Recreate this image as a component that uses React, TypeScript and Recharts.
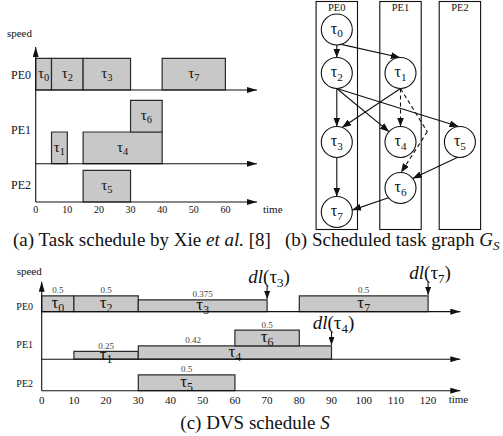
import React from 'react';
import { ScatterChart, Scatter, XAxis, YAxis, ReferenceArea, ReferenceLine } from 'recharts';

const SERIF = '"Liberation Serif", "Times New Roman", serif';
const INK = '#111';
const BAR_FILL = '#c8c8c8';
const BAR_STROKE = '#2a2a2a';
const serif = { fontFamily: SERIF };

const peNames = ['PE0', 'PE1', 'PE2'];

// (a) task schedule by Xie et al. -- every task runs at full speed
const xieSchedule = [
  { task: 0, pe: 0, start: 0, end: 5, speed: 1, base: 0 },
  { task: 2, pe: 0, start: 5, end: 15, speed: 1, base: 0 },
  { task: 3, pe: 0, start: 15, end: 30, speed: 1, base: 0 },
  { task: 7, pe: 0, start: 40, end: 60, speed: 1, base: 0 },
  { task: 1, pe: 1, start: 5, end: 10, speed: 1, base: 0 },
  { task: 4, pe: 1, start: 15, end: 40, speed: 1, base: 0 },
  { task: 6, pe: 1, start: 30, end: 40, speed: 1, base: 1 },
  { task: 5, pe: 2, start: 15, end: 30, speed: 1, base: 0 },
];
const xieTicks = [0, 10, 20, 30, 40, 50, 60];

// (c) DVS schedule S
const dvsSchedule = [
  { task: 0, pe: 0, start: 0, end: 10, speed: 0.5, base: 0 },
  { task: 2, pe: 0, start: 10, end: 30, speed: 0.5, base: 0 },
  { task: 3, pe: 0, start: 30, end: 70, speed: 0.375, base: 0 },
  { task: 7, pe: 0, start: 80, end: 120, speed: 0.5, base: 0 },
  { task: 1, pe: 1, start: 10, end: 30, speed: 0.25, base: 0 },
  { task: 4, pe: 1, start: 30, end: 90, speed: 0.42, base: 0 },
  { task: 6, pe: 1, start: 60, end: 80, speed: 0.5, base: 0.42 },
  { task: 5, pe: 2, start: 30, end: 60, speed: 0.5, base: 0 },
];
const dvsTicks = [0, 10, 20, 30, 40, 50, 60, 70, 80, 90, 100, 110, 120];
const dvsDeadlines = [
  { task: 3, time: 70 },
  { task: 7, time: 120 },
  { task: 4, time: 90 },
];
// speed label of tau4 sits over the part not covered by tau6
const speedLabelAt: Record<number, number> = { 4: 47 };

// (b) scheduled task graph G_S
const graphNodes = [
  { task: 0, pe: 0, level: 29.5 },
  { task: 1, pe: 1, level: 73 },
  { task: 2, pe: 0, level: 73 },
  { task: 3, pe: 0, level: 142 },
  { task: 4, pe: 1, level: 142 },
  { task: 5, pe: 2, level: 142 },
  { task: 6, pe: 1, level: 188 },
  { task: 7, pe: 0, level: 212 },
];
const graphEdges = [
  { from: 0, to: 2, dashed: false },
  { from: 0, to: 1, dashed: false },
  { from: 2, to: 3, dashed: false },
  { from: 2, to: 4, dashed: false },
  { from: 2, to: 5, dashed: false },
  { from: 1, to: 3, dashed: false },
  { from: 1, to: 4, dashed: true },
  { from: 1, to: 6, dashed: true },
  { from: 3, to: 7, dashed: false },
  { from: 5, to: 6, dashed: false },
  { from: 6, to: 7, dashed: false },
];

// ---- layout ----
const layoutA = {
  id: 'a', left: 0, top: 20, width: 300, height: 210,
  margin: { top: 23.5, right: 43, bottom: 8, left: 5.7 },
  yAxisWidth: 30, xAxisHeight: 20,
  xMax: 70, yMax: 5, arrowTop: 4.89,
  laneBase: [3.533, 1.208, 0], laneLabel: [4.006, 2.271, 0.536],
  peFont: 12, peGap: 4.7, tickFont: 10, tickGap: 4.3, tauFont: 15,
  timeDx: 6, timeDy: 11.3, speedDx: -3.7, speedDy: -9.7,
};
const layoutC = {
  id: 'c', left: 0, top: 260, width: 503, height: 160,
  margin: { top: 20.45, right: 42.7, bottom: 9.3, left: 11.7 },
  yAxisWidth: 30, xAxisHeight: 20,
  xMax: 130, yMax: 3.5, arrowTop: 3.46,
  laneBase: [2.51, 1.0, 0], laneLabel: [2.667, 1.45, 0.235],
  peFont: 10, peGap: 8.7, tickFont: 11, tickGap: 5.2, tauFont: 17,
  timeDx: -11.6, timeDy: 12.6, speedDx: 0, speedDy: -6.4,
};
const graphCols = [36.8, 100.5, 159.9];
const COL_HALF = 20.7;
const NODE_R = 15.5;
const bendPoint = { x: 127.3, y: 131.7 };
const edgePorts: Record<string, [number, number]> = {
  '0-2': [90, 270], '0-1': [74, 268], '2-3': [90, 270], '2-4': [90, 222],
  '2-5': [90, 265], '1-3': [90, 290], '1-4': [90, 270], '1-6': [90, 272],
  '3-7': [90, 270], '5-6': [98, 322], '6-7': [141, 353],
};

const Tau = ({ x, y, n, size }: any) => (
  <text x={x} y={y + size * 0.25} textAnchor="middle" fontFamily={SERIF} style={serif} fontSize={size} fill={INK}>
    τ<tspan fontSize={size * 0.7} dy={size * 0.22}>{n}</tspan>
  </text>
);

const Arrowhead = ({ id, w, h }: any) => (
  <marker id={id} viewBox="0 0 10 10" refX={10} refY={5} markerWidth={w} markerHeight={h}
    markerUnits="userSpaceOnUse" orient="auto" preserveAspectRatio="none">
    <path d="M0,0 L10,5 L0,10 Z" fill={INK} />
  </marker>
);

function Schedule({ tasks, L, ticks, showSpeed, deadlines }: any) {
  const bottomOf = (t: any) => L.laneBase[t.pe] + t.base;
  const centers = tasks.map((t: any) => ({ x: (t.start + t.end) / 2, y: bottomOf(t) + t.speed / 2, task: t.task }));
  const speedMarks = showSpeed
    ? tasks.map((t: any) => ({ x: speedLabelAt[t.task] ?? (t.start + t.end) / 2, y: bottomOf(t) + t.speed, text: String(t.speed) }))
    : [];
  const axisArrow = `url(#${L.id}-axis)`;
  const dlArrow = `url(#${L.id}-dl)`;
  const last = L.laneBase.length - 1;

  return (
    <div style={{ position: 'absolute', left: L.left, top: L.top }}>
      <ScatterChart width={L.width} height={L.height} margin={L.margin} style={serif}>
        <defs>
          <Arrowhead id={`${L.id}-axis`} w={10} h={6} />
          <Arrowhead id={`${L.id}-dl`} w={8} h={6} />
        </defs>
        <XAxis type="number" dataKey="x" domain={[0, L.xMax]} allowDataOverflow ticks={ticks} interval={0}
          axisLine={false} tickLine={false} tickSize={0} tickMargin={L.tickGap} height={L.xAxisHeight}
          tick={{ fontSize: L.tickFont, fontFamily: SERIF, fill: INK, style: serif }} />
        <YAxis type="number" dataKey="y" domain={[0, L.yMax]} allowDataOverflow ticks={L.laneLabel} interval={0}
          axisLine={false} tickLine={false} tickSize={0} tickMargin={L.peGap} width={L.yAxisWidth}
          tick={(p: any) => (
            <text x={p.x} y={p.y} dy="0.33em" textAnchor="end" fontSize={L.peFont} fontFamily={SERIF} style={serif} fill={INK}>
              {peNames[L.laneLabel.indexOf(p.payload.value)]}
            </text>
          )} />

        {tasks.map((t: any, i: number) => (
          <ReferenceArea key={`bar${i}`} x1={t.start} x2={t.end} y1={bottomOf(t)} y2={bottomOf(t) + t.speed}
            ifOverflow="visible" fill={BAR_FILL} fillOpacity={1} stroke={BAR_STROKE} strokeWidth={1.2} />
        ))}

        {L.laneBase.map((b: number, i: number) => (
          <ReferenceLine key={`lane${i}`} segment={[{ x: 0, y: b }, { x: L.xMax, y: b }]} ifOverflow="visible"
            shape={(p: any) => (
              <g>
                <line x1={p.x1} y1={p.y1} x2={p.x2} y2={p.y2} stroke={INK} strokeWidth={1.1} markerEnd={axisArrow} />
                {i === last && (
                  <text x={p.x2 + L.timeDx} y={p.y2 + L.timeDy} fontSize={11} fontFamily={SERIF} style={serif} fill={INK}>time</text>
                )}
              </g>
            )} />
        ))}
        <ReferenceLine segment={[{ x: 0, y: 0 }, { x: 0, y: L.arrowTop }]} ifOverflow="visible"
          shape={(p: any) => (
            <g>
              <line x1={p.x1} y1={p.y1} x2={p.x2} y2={p.y2} stroke={INK} strokeWidth={1.1} markerEnd={axisArrow} />
              <text x={p.x2 + L.speedDx} y={p.y2 + L.speedDy} textAnchor="end" fontSize={11} fontFamily={SERIF} style={serif} fill={INK}>speed</text>
            </g>
          )} />

        {(deadlines || []).map((d: any) => {
          const t = tasks.find((k: any) => k.task === d.task);
          const top = bottomOf(t) + t.speed;
          return (
            <ReferenceLine key={`dl${d.task}`} segment={[{ x: d.time, y: top + 0.47 }, { x: d.time, y: top + 0.03 }]}
              ifOverflow="visible"
              shape={(p: any) => (
                <g>
                  <line x1={p.x1} y1={p.y1} x2={p.x2} y2={p.y2} stroke={INK} strokeWidth={1.1} markerEnd={dlArrow} />
                  <text x={p.x1 + 2} y={p.y1 - 2} textAnchor="middle" fontSize={19} fontFamily={SERIF} style={serif} fill={INK}>
                    <tspan fontStyle="italic">dl</tspan>(τ<tspan fontSize={13} dy={4}>{d.task}</tspan><tspan dy={-4}>)</tspan>
                  </text>
                </g>
              )} />
          );
        })}

        <Scatter data={centers} isAnimationActive={false}
          shape={(p: any) => <Tau x={p.cx} y={p.cy} n={p.payload.task} size={L.tauFont} />} />
        {showSpeed && (
          <Scatter data={speedMarks} isAnimationActive={false}
            shape={(p: any) => (
              <text x={p.cx} y={p.cy - 2.5} textAnchor="middle" fontSize={9} fontFamily={SERIF} style={serif} fill="#444">{p.payload.text}</text>
            )} />
        )}
      </ScatterChart>
    </div>
  );
}

function TaskGraph() {
  const center = (n: number) => {
    const nd = graphNodes.find((g) => g.task === n)!;
    return { x: graphCols[nd.pe], y: nd.level };
  };
  const port = (n: number, deg: number) => {
    const c = center(n);
    const a = (deg * Math.PI) / 180;
    return { x: c.x + NODE_R * Math.cos(a), y: c.y + NODE_R * Math.sin(a) };
  };
  const nodeData = graphNodes.map((g) => ({ ...center(g.task), task: g.task }));
  const edgeLine = (dashed: boolean, arrow: boolean) => (p: any) => (
    <line x1={p.x1} y1={p.y1} x2={p.x2} y2={p.y2} stroke={INK} strokeWidth={1.1}
      strokeDasharray={dashed ? '4 3' : undefined} markerEnd={arrow ? 'url(#b-arrow)' : undefined} />
  );

  return (
    <div style={{ position: 'absolute', left: 300, top: 0 }}>
      <ScatterChart width={203} height={236} margin={{ top: 0, right: 0, bottom: 0, left: 0 }} style={serif}>
        <defs>
          <Arrowhead id="b-arrow" w={9} h={7} />
        </defs>
        <XAxis type="number" dataKey="x" domain={[0, 203]} allowDataOverflow hide />
        <YAxis type="number" dataKey="y" domain={[0, 236]} allowDataOverflow reversed hide />

        {peNames.map((name, i) => (
          <ReferenceArea key={name} x1={graphCols[i] - COL_HALF} x2={graphCols[i] + COL_HALF} y1={1.5} y2={229.5}
            ifOverflow="visible"
            shape={(p: any) => (
              <g>
                <rect x={p.x} y={p.y} width={p.width} height={p.height} fill="none" stroke={INK} strokeWidth={1.1} />
                <text x={p.x + p.width / 2} y={p.y + 9.5} textAnchor="middle" fontSize={10.5} fontFamily={SERIF} style={serif} fill={INK}>{name}</text>
              </g>
            )} />
        ))}

        {graphEdges.map((e) => {
          const [a1, a2] = edgePorts[`${e.from}-${e.to}`];
          const s = port(e.from, a1);
          const t = port(e.to, a2);
          if (e.from === 1 && e.to === 6) {
            return (
              <React.Fragment key="e1-6">
                <ReferenceLine segment={[s, bendPoint]} ifOverflow="visible" shape={edgeLine(true, false)} />
                <ReferenceLine segment={[bendPoint, t]} ifOverflow="visible" shape={edgeLine(true, true)} />
              </React.Fragment>
            );
          }
          return (
            <ReferenceLine key={`e${e.from}-${e.to}`} segment={[s, t]} ifOverflow="visible" shape={edgeLine(e.dashed, true)} />
          );
        })}

        <Scatter data={nodeData} isAnimationActive={false}
          shape={(p: any) => (
            <g>
              <circle cx={p.cx} cy={p.cy} r={NODE_R} fill="#fff" stroke={INK} strokeWidth={1.1} />
              <Tau x={p.cx} y={p.cy} n={p.payload.task} size={16} />
            </g>
          )} />
      </ScatterChart>
    </div>
  );
}

export default function App() {
  return (
    <div style={{ position: 'absolute', left: 0, top: 0, width: 503, height: 436, background: '#fff', overflow: 'hidden', fontFamily: SERIF }}>
      <Schedule tasks={xieSchedule} L={layoutA} ticks={xieTicks} showSpeed={false} />
      <TaskGraph />
      <Schedule tasks={dvsSchedule} L={layoutC} ticks={dvsTicks} showSpeed deadlines={dvsDeadlines} />
      <svg width={503} height={436} style={{ position: 'absolute', left: 0, top: 0, pointerEvents: 'none' }}>
        <text x={13} y={245.5} fontSize={19} fontFamily={SERIF} fill={INK}>
          (a) Task schedule by Xie <tspan fontStyle="italic">et al.</tspan> [8]
        </text>
        <text x={285} y={245.5} fontSize={19} fontFamily={SERIF} fill={INK}>
          (b) Scheduled task graph <tspan fontStyle="italic">G</tspan>
          <tspan fontStyle="italic" fontSize={13} dy={4}>S</tspan>
        </text>
        <text x={255} y={428.5} textAnchor="middle" fontSize={19} fontFamily={SERIF} fill={INK}>
          (c) DVS schedule <tspan fontStyle="italic">S</tspan>
        </text>
      </svg>
    </div>
  );
}
